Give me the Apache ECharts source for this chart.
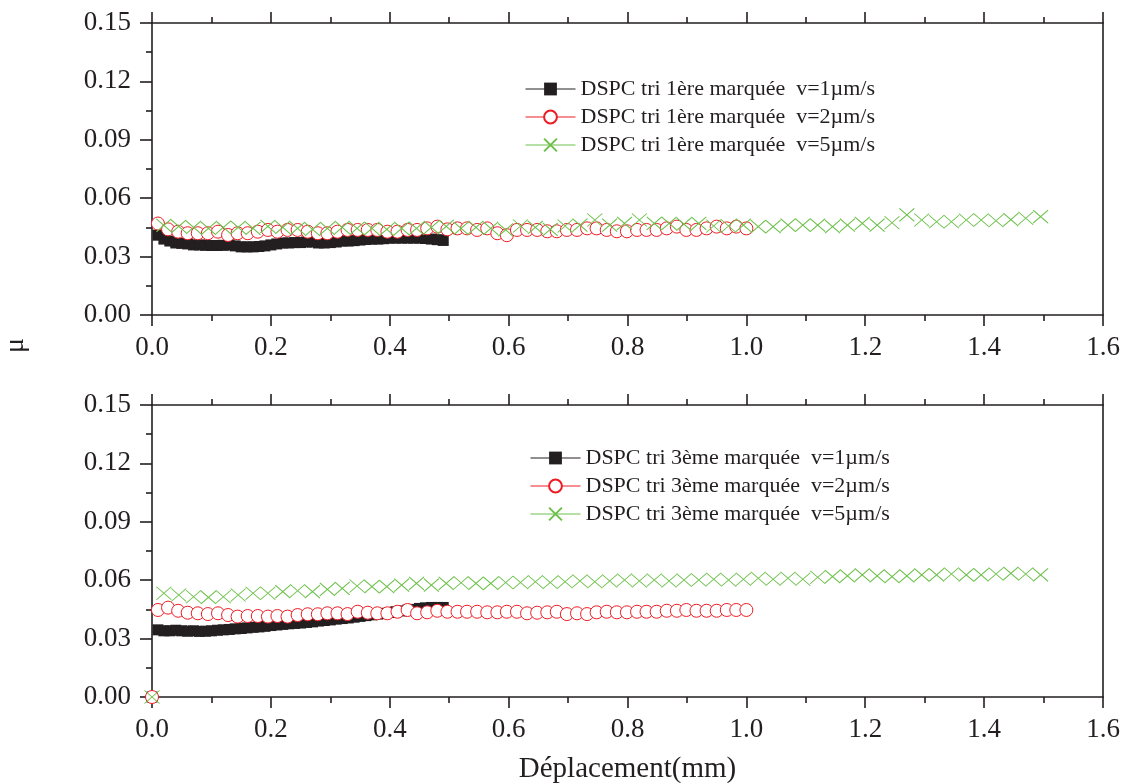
<!DOCTYPE html>
<html>
<head>
<meta charset="utf-8">
<script src="https://cdn.jsdelivr.net/npm/echarts@6/dist/echarts.min.js"></script>
<style>
html,body{margin:0;padding:0;background:#fff;}
#c{width:1127px;height:783px;}
</style>
</head>
<body>
<div id="c"></div>
<script>
// ---- tick labels / axis ----
const xTicks = [0.0, 0.2, 0.4, 0.6, 0.8, 1.0, 1.2, 1.4, 1.6];
const yTicks = [0.00, 0.03, 0.06, 0.09, 0.12, 0.15];
const xAxisName = 'Déplacement(mm)';
const yAxisName = 'μ';

// ---- series names ----
const namesTop = ['DSPC tri 1ère marquée  v=1µm/s', 'DSPC tri 1ère marquée  v=2µm/s', 'DSPC tri 1ère marquée  v=5µm/s'];
const namesBot = ['DSPC tri 3ème marquée  v=1µm/s', 'DSPC tri 3ème marquée  v=2µm/s', 'DSPC tri 3ème marquée  v=5µm/s'];

// ---- x positions ----
const xV1 = [0.01,0.02,0.03,0.04,0.05,0.06,0.07,0.08,0.09,0.10,0.11,0.12,0.13,0.14,0.15,0.16,0.17,0.18,0.19,0.20,0.21,0.22,0.23,0.24,0.25,0.26,0.27,0.28,0.29,0.30,0.31,0.32,0.33,0.34,0.35,0.36,0.37,0.38,0.39,0.40,0.41,0.42,0.43,0.44,0.45,0.46,0.47,0.48,0.49];
const xV2 = [0.010,0.027,0.044,0.060,0.077,0.094,0.111,0.128,0.144,0.161,0.178,0.195,0.211,0.228,0.245,0.262,0.279,0.295,0.312,0.329,0.346,0.363,0.379,0.396,0.413,0.430,0.446,0.463,0.480,0.497,0.514,0.530,0.547,0.564,0.581,0.597,0.614,0.631,0.648,0.665,0.681,0.698,0.715,0.732,0.748,0.765,0.782,0.799,0.816,0.832,0.849,0.866,0.883,0.899,0.916,0.933,0.950,0.967,0.983,1.000];
const xV5 = [0.020,0.045,0.070,0.095,0.120,0.145,0.170,0.195,0.220,0.245,0.270,0.295,0.320,0.345,0.370,0.395,0.420,0.445,0.470,0.495,0.520,0.545,0.570,0.595,0.620,0.645,0.670,0.695,0.720,0.745,0.770,0.795,0.820,0.845,0.870,0.895,0.920,0.945,0.970,0.995,1.020,1.045,1.070,1.095,1.120,1.145,1.170,1.195,1.220,1.245,1.270,1.295,1.320,1.345,1.370,1.395,1.420,1.445,1.470,1.495];

// ---- top panel values (1ère marquée) ----
const top_v1 = [0.041,0.039,0.038,0.037,0.0368,0.0365,0.036,0.036,0.0358,0.0357,0.0357,0.0358,0.036,0.0355,0.035,0.035,0.035,0.0352,0.0355,0.036,0.0365,0.037,0.037,0.0372,0.0372,0.0375,0.0375,0.037,0.037,0.0372,0.0375,0.038,0.038,0.0382,0.0385,0.0388,0.039,0.039,0.0392,0.0395,0.0395,0.0395,0.0395,0.0395,0.0395,0.0393,0.039,0.0387,0.0383];
const top_v2 = [0.047,0.044,0.0428,0.042,0.042,0.042,0.0428,0.0411,0.042,0.042,0.0428,0.0437,0.0428,0.0437,0.0437,0.0428,0.042,0.042,0.0428,0.0437,0.0437,0.0437,0.0437,0.0428,0.0428,0.0437,0.0437,0.0445,0.0454,0.044,0.0445,0.0445,0.0437,0.0445,0.042,0.041,0.0437,0.0437,0.0437,0.043,0.043,0.0437,0.0437,0.0445,0.0445,0.0437,0.043,0.043,0.0437,0.0437,0.0437,0.0445,0.0454,0.0437,0.0437,0.0445,0.0454,0.0445,0.0454,0.0445];
const top_v5 = [0.046,0.0455,0.045,0.0445,0.045,0.045,0.0445,0.0455,0.045,0.0445,0.044,0.0445,0.045,0.0445,0.0445,0.044,0.0445,0.0445,0.045,0.0455,0.0445,0.045,0.0445,0.0437,0.0457,0.045,0.044,0.0457,0.0462,0.0488,0.0462,0.0471,0.0488,0.0471,0.0471,0.0467,0.0471,0.0457,0.0457,0.0462,0.0454,0.0454,0.0462,0.0462,0.0462,0.0454,0.0462,0.0471,0.0462,0.0474,0.0514,0.0488,0.0479,0.0479,0.0488,0.0488,0.0484,0.049,0.0497,0.0505];

// ---- bottom panel values (3ème marquée) ----
const bot_v1 = [0.0345,0.034,0.034,0.0343,0.034,0.0338,0.034,0.0337,0.0338,0.034,0.0343,0.0345,0.0347,0.035,0.0352,0.0355,0.0358,0.036,0.0363,0.0367,0.037,0.0373,0.0376,0.0378,0.038,0.0383,0.0386,0.039,0.0393,0.0396,0.04,0.0403,0.0406,0.041,0.0414,0.0418,0.0422,0.0426,0.043,0.0434,0.0438,0.0442,0.0446,0.045,0.0455,0.0458,0.046,0.046,0.046];
const bot_v2 = [0.0447,0.0459,0.0443,0.0433,0.043,0.0426,0.043,0.0421,0.0413,0.0416,0.0416,0.0413,0.0416,0.0413,0.0421,0.0425,0.0425,0.043,0.043,0.0426,0.0438,0.0433,0.043,0.043,0.0438,0.0447,0.043,0.0435,0.0443,0.0438,0.0438,0.0438,0.0438,0.0435,0.0435,0.0438,0.0438,0.043,0.0433,0.0435,0.0438,0.0426,0.043,0.0426,0.0435,0.0438,0.0435,0.0435,0.0438,0.0438,0.0438,0.0443,0.0443,0.0447,0.0443,0.0443,0.0443,0.0447,0.0447,0.0447];
const bot_v5 = [0.0533,0.0524,0.0515,0.0512,0.0515,0.0524,0.0533,0.0533,0.0541,0.0546,0.0541,0.0553,0.0558,0.057,0.0567,0.0567,0.0575,0.0584,0.0575,0.0584,0.0587,0.0584,0.0584,0.0588,0.0588,0.0592,0.0588,0.0592,0.0596,0.0592,0.0596,0.0601,0.0596,0.0601,0.0596,0.0601,0.0601,0.0605,0.0601,0.0605,0.061,0.0605,0.061,0.0605,0.0615,0.0618,0.0622,0.0627,0.0622,0.0618,0.0622,0.0627,0.0627,0.0632,0.0627,0.0627,0.0632,0.0635,0.0632,0.0627];
// first recorded point of each bottom run (origin)
const botStartX = 0;
const botStartY = 0;

// ---- build ----
function pairs(xs, ys, start) {
  const out = start ? [start] : [];
  const n = Math.min(xs.length, ys.length);
  for (let i = 0; i < n; i++) out.push([xs[i], ys[i]]);
  return out;
}
const INK = '#231f20', RED = '#ed1c24', GREEN = '#6cc04a';
const FONT = 'Liberation Serif';
const X_SYM = 'path://M0,0L10,10M10,0L0,10';

function styleFor(k) {
  if (k === 0) return {symbol: 'rect', symbolSize: 11, color: INK,
    itemStyle: {color: INK, borderColor: INK, borderWidth: 0}};
  if (k === 1) return {symbol: 'circle', symbolSize: 13, color: RED,
    itemStyle: {color: '#ffffff', borderColor: RED, borderWidth: 1}};
  return {symbol: X_SYM, symbolSize: [15, 13], color: GREEN,
    itemStyle: {color: GREEN, borderColor: GREEN, borderWidth: 1}};
}
function mkSeries(name, data, k, idx) {
  const s = styleFor(k);
  return {
    type: 'line', name: name, data: data, xAxisIndex: idx, yAxisIndex: idx,
    symbol: s.symbol, symbolSize: s.symbolSize, showSymbol: true, showAllSymbol: true,
    itemStyle: s.itemStyle,
    lineStyle: {color: s.color, width: 1, opacity: 0},
    emphasis: {disabled: true}, animation: false, clip: false, z: 2 + k
  };
}

const series = [
  mkSeries(namesTop[0], pairs(xV1, top_v1), 0, 0),
  mkSeries(namesTop[1], pairs(xV2, top_v2), 1, 0),
  mkSeries(namesTop[2], pairs(xV5, top_v5), 2, 0),
  mkSeries(namesBot[0], pairs(xV1, bot_v1, [botStartX, botStartY]), 0, 1),
  mkSeries(namesBot[1], pairs(xV2, bot_v2, [botStartX, botStartY]), 1, 1),
  mkSeries(namesBot[2], pairs(xV5, bot_v5, [botStartX, botStartY]), 2, 1)
];

const axLine = {show: true, onZero: false, lineStyle: {color: INK, width: 1.6}};
function xBottom(idx, withName) {
  const a = {
    type: 'value', gridIndex: idx, position: 'bottom',
    min: xTicks[0], max: xTicks[xTicks.length - 1], interval: xTicks[1] - xTicks[0],
    axisLine: axLine,
    axisTick: {show: true, inside: false, length: 11, lineStyle: {color: INK, width: 1.6}},
    minorTick: {show: true, splitNumber: 2, length: 6, lineStyle: {color: INK, width: 1.6}},
    splitLine: {show: false},
    axisLabel: {margin: 19, color: INK, fontFamily: FONT, fontSize: 27,
      formatter: v => v.toFixed(1)}
  };
  if (withName) {
    a.name = xAxisName; a.nameLocation = 'middle'; a.nameGap = 58;
    a.nameTextStyle = {color: INK, fontFamily: FONT, fontSize: 29, verticalAlign: 'top'};
  }
  return a;
}
function xTop(idx) {
  return {
    type: 'value', gridIndex: idx, position: 'top',
    min: xTicks[0], max: xTicks[xTicks.length - 1], interval: xTicks[1] - xTicks[0],
    axisLine: axLine,
    axisTick: {show: true, inside: false, length: 11, lineStyle: {color: INK, width: 1.6}},
    minorTick: {show: true, splitNumber: 2, length: 6, lineStyle: {color: INK, width: 1.6}},
    splitLine: {show: false}, axisLabel: {show: false}
  };
}
function yLeft(idx) {
  return {
    type: 'value', gridIndex: idx, position: 'left',
    min: yTicks[0], max: yTicks[yTicks.length - 1], interval: yTicks[1] - yTicks[0],
    axisLine: axLine,
    axisTick: {show: true, inside: false, length: 12, lineStyle: {color: INK, width: 1.6}},
    minorTick: {show: true, splitNumber: 2, length: 6, lineStyle: {color: INK, width: 1.6}},
    splitLine: {show: false},
    axisLabel: {margin: 21, color: INK, fontFamily: FONT, fontSize: 27,
      formatter: v => v.toFixed(2)}
  };
}
function yRight(idx) {
  return {
    type: 'value', gridIndex: idx, position: 'right',
    min: yTicks[0], max: yTicks[yTicks.length - 1], interval: yTicks[1] - yTicks[0],
    axisLine: axLine, axisTick: {show: false}, splitLine: {show: false}, axisLabel: {show: false}
  };
}

const legendBase = {
  orient: 'vertical', itemWidth: 50, itemHeight: 16, itemGap: 6,
  textStyle: {color: INK, fontFamily: FONT, fontSize: 22, lineHeight: 22},
  lineStyle: {width: 1, opacity: 1},
  selectedMode: false
};

const option = {
  animation: false,
  backgroundColor: '#ffffff',
  grid: [
    {left: 152, right: 24, top: 23, height: 292, outerBoundsMode: 'none', containLabel: false},
    {left: 152, right: 24, top: 405, height: 292, outerBoundsMode: 'none', containLabel: false}
  ],
  xAxis: [xBottom(0, false), xBottom(1, true), xTop(0), xTop(1)],
  yAxis: [yLeft(0), yLeft(1), yRight(0), yRight(1)],
  legend: [
    Object.assign({}, legendBase, {left: 520, top: 73, data: namesTop}),
    Object.assign({}, legendBase, {left: 525, top: 442, data: namesBot})
  ],
  graphic: [{
    type: 'text', left: 2, top: 338, rotation: Math.PI / 2,
    style: {text: yAxisName, fill: INK, font: '28px "Liberation Serif"'}
  }],
  series: series
};

const chart = echarts.init(document.getElementById('c'), null, {renderer: 'canvas'});
chart.setOption(option);
</script>
</body>
</html>
